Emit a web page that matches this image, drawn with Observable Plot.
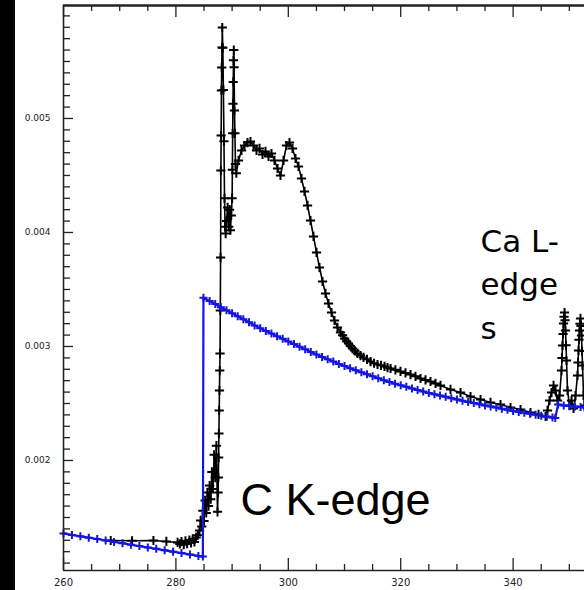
<!DOCTYPE html>
<html><head><meta charset="utf-8">
<script src="https://cdn.jsdelivr.net/npm/d3@7"></script>
<script src="https://cdn.jsdelivr.net/npm/@observablehq/plot@0.6"></script>
<style>
html,body{margin:0;padding:0;background:#fff;}
#wrap{position:relative;width:584px;height:590px;overflow:hidden;background:#fff;}
#strip{position:absolute;left:0;top:0;width:15px;height:590px;background:#000;z-index:2;}
#chart{position:absolute;left:0;top:0;}
</style></head>
<body><div id="wrap"><div id="strip"></div><div id="chart"></div></div>
<script>
// photon energy (eV) and absorption of the model (blue)
const blueE = [260,261.5,263,264.5,266,267.5,269,270.5,272,273.5,275,276.5,278,279.5,281,282.5,284,284.8,
  284.9,286,287,288,289,290,291,292,293,294,295,296,297,298,299,300,301,302,303,304,305,306,307,308,309,310,
  311,312,313,314,315,316,317,318,319,320,321,322,323,324,325,326,327,328,329,330,331,332,333,334,335,336,337,
  338,339,340,341,342,343,344,345,346,347,347.5,348,349,350,351,352,352.7];
const blueV = [0.001360,0.001347,0.001335,0.001323,0.001311,0.001298,0.001286,0.001274,0.001261,0.001249,0.001237,
  0.001225,0.001212,0.001200,0.001188,0.001175,0.001163,0.001157,
  0.003427,0.003399,0.003372,0.003345,0.003318,0.003291,0.003265,0.003239,0.003212,0.003185,0.003160,0.003136,
  0.003113,0.003090,0.003067,0.003044,0.003021,0.002998,0.002975,0.002952,0.002929,0.002907,0.002888,0.002868,
  0.002847,0.002828,0.002809,0.002791,0.002774,0.002756,0.002739,0.002722,0.002704,0.002688,0.002673,0.002660,
  0.002646,0.002632,0.002619,0.002605,0.002592,0.002580,0.002569,0.002558,0.002546,0.002536,0.002525,0.002513,
  0.002504,0.002493,0.002483,0.002474,0.002464,0.002454,0.002444,0.002435,0.002426,0.002418,0.002410,0.002401,
  0.002393,0.002384,0.002376,0.002372,0.002491,0.002482,0.002478,0.002474,0.002469,0.002465];

// measured spectrum (black)
const blackE = [268.4,272.2,276.0,278.3,280.3,280.7,281.0,281.4,281.7,282.0,282.4,282.7,283.0,283.3,283.6,283.9,
  284.2,284.4,284.6,284.8,285.0,285.2,285.4,285.6,285.8,286.0,286.2,286.4,286.6,286.8,287.0,287.2,287.4,
  287.50,287.55,287.60,287.65,287.70,287.75,287.80,287.85,287.90,287.95,288.00,288.05,288.10,288.15,288.20,288.25,
  288.35,288.45,288.55,288.65,288.75,288.85,289.00,289.20,289.40,289.55,289.70,289.85,290.00,
  290.05,290.10,290.15,290.20,290.25,290.30,290.35,290.42,290.50,290.60,290.75,
  291.14,291.67,292.21,292.74,293.27,293.81,294.34,294.88,295.41,295.94,296.48,297.01,297.54,298.08,298.61,
  299.15,299.68,300.21,300.75,301.28,301.81,302.35,302.88,303.42,303.95,304.48,305.02,305.55,306.09,306.62,
  307.15,307.69,308.22,308.75,309.29,309.65,310.00,310.35,310.71,311.05,311.42,311.85,312.31,312.85,313.38,
  314.00,314.63,315.25,315.87,316.50,317.12,317.65,318.19,319.05,319.96,320.85,321.74,322.63,323.52,324.41,
  325.30,326.19,327.08,328.86,330.64,332.42,334.20,335.98,337.76,339.54,341.32,343.10,344.52,345.77,
  346.12,346.48,346.83,347.19,347.54,347.90,348.26,348.61,348.70,348.79,348.88,348.97,349.06,349.15,349.24,
  349.32,349.41,349.50,349.68,350.04,350.39,350.75,351.10,351.46,351.55,351.64,351.72,351.81,351.90,351.99,
  352.08,352.17,352.26,352.35,352.53,352.70];
const blackV = [0.001298,0.001296,0.001298,0.001290,0.001281,0.001268,0.001288,0.001262,0.001295,0.001270,0.001302,
  0.001278,0.001312,0.001286,0.001325,0.001345,0.001386,0.001474,0.001420,0.001560,0.001470,0.001650,0.001540,
  0.001720,0.001600,0.001780,0.001660,0.001900,0.001750,0.002050,0.001850,0.002130,0.001550,
  0.001719,0.001851,0.002026,0.002237,0.002439,0.002614,0.002789,0.002939,0.003316,0.003781,0.004544,0.004851,
  0.005246,0.005447,0.005623,0.005798,
  0.005620,0.005250,0.004800,0.004300,0.004050,0.003990,0.004100,0.004220,0.004050,0.004200,0.004020,0.004150,0.004300,
  0.004550,0.004870,0.005130,0.005320,0.005510,0.005600,0.005450,0.005070,0.004870,0.004600,0.004520,
  0.004632,0.004719,0.004763,0.004789,0.004798,0.004763,0.004719,0.004737,0.004684,0.004711,0.004667,0.004693,
  0.004632,0.004561,0.004500,0.004632,0.004763,0.004789,0.004737,0.004649,0.004579,0.004474,0.004360,0.004237,
  0.004105,0.003965,0.003825,0.003693,0.003570,0.003465,0.003377,0.003298,0.003228,0.003167,0.003123,0.003098,
  0.003070,0.003046,0.003026,0.003005,0.002982,0.002962,0.002939,0.002920,0.002904,0.002887,0.002868,0.002853,
  0.002842,0.002835,0.002825,0.002815,0.002807,0.002795,0.002781,0.002768,0.002754,0.002738,0.002719,0.002707,
  0.002693,0.002676,0.002658,0.002623,0.002596,0.002561,0.002535,0.002509,0.002491,0.002465,0.002447,0.002421,
  0.002404,0.002386,
  0.002439,0.002526,0.002596,0.002658,0.002614,0.002526,0.002570,0.002789,0.002900,0.003009,0.003110,0.003202,
  0.003260,0.003298,0.003230,0.003140,0.003010,0.002877,0.002614,0.002482,0.002526,0.002456,0.002570,0.002746,
  0.002860,0.002965,0.003060,0.003140,0.003200,0.003246,0.003180,0.003096,0.002960,0.002833,0.002570,0.002482];

const xDomain = [260, 352.7];
const yDomain = [0.001035, 0.005991];
const xTicks = [260, 280, 300, 320, 340];
const xMinor = [265,270,275,285,290,295,305,310,315,325,330,335,345,350];
const yTicks = [0.002, 0.003, 0.004, 0.005];
const yMinor = [0.0011,0.0012,0.0013,0.0014,0.0015,0.0016,0.0017,0.0018,0.0019,
  0.0021,0.0022,0.0023,0.0024,0.0025,0.0026,0.0027,0.0028,0.0029,
  0.0031,0.0032,0.0033,0.0034,0.0035,0.0036,0.0037,0.0038,0.0039,
  0.0041,0.0042,0.0043,0.0044,0.0045,0.0046,0.0047,0.0048,0.0049,
  0.0051,0.0052,0.0053,0.0054,0.0055,0.0056,0.0057,0.0058,0.0059];

const blue = blueE.map((e, i) => ({e, v: blueV[i]}));
const black = blackE.map((e, i) => ({e, v: blackV[i]}));

const plus = {
  draw(ctx, size) {
    const r = Math.sqrt(size / Math.PI);
    ctx.moveTo(-r, 0); ctx.lineTo(r, 0);
    ctx.moveTo(0, -r); ctx.lineTo(0, r);
  }
};

const W = 584, H = 590, mL = 63, mT = 5, mB = 20, mR = 0;
const pw = W - mL - mR, ph = H - mT - mB;
const axisColor = "#222";

const chart = Plot.plot({
  width: W, height: H,
  marginLeft: mL, marginTop: mT, marginBottom: mB, marginRight: mR,
  style: {background: "transparent", overflow: "visible"},
  x: {domain: xDomain, label: null},
  y: {domain: yDomain, label: null},
  marks: [
    // measured spectrum
    Plot.line(black, {x: "e", y: "v", stroke: "#000", strokeWidth: 1.6}),
    Plot.dot(black, {x: "e", y: "v", symbol: plus, r: 4.6, stroke: "#000", strokeWidth: 2, fill: "none"}),
    // model
    Plot.line(blue, {x: "e", y: "v", stroke: "#1515e0", strokeWidth: 2.2}),
    Plot.dot(blue, {x: "e", y: "v", symbol: plus, r: 4, stroke: "#1515e0", strokeWidth: 2, fill: "none"}),
    // frame
    Plot.ruleY([yDomain[0]], {stroke: axisColor, strokeWidth: 1.6}),
    Plot.ruleY([yDomain[1]], {stroke: axisColor, strokeWidth: 2.6}),
    Plot.ruleX([xDomain[0]], {stroke: axisColor, strokeWidth: 1.6}),
    // inward ticks
    Plot.tickX(xTicks, {x: d => d, insetTop: ph - 12, stroke: axisColor, strokeWidth: 1.3}),
    Plot.tickX(xMinor, {x: d => d, insetTop: ph - 6, stroke: axisColor, strokeWidth: 1.3}),
    Plot.tickX(xTicks, {x: d => d, insetBottom: ph - 12, stroke: axisColor, strokeWidth: 1.3}),
    Plot.tickX(xMinor, {x: d => d, insetBottom: ph - 6, stroke: axisColor, strokeWidth: 1.3}),
    Plot.tickY(yTicks, {y: d => d, insetRight: pw - 10, stroke: axisColor, strokeWidth: 1.3}),
    Plot.tickY(yMinor, {y: d => d, insetRight: pw - 7, stroke: axisColor, strokeWidth: 1.3}),
    // tick labels
    Plot.axisX({ticks: xTicks, tickSize: 0, tickPadding: 8, fontSize: 10, fontFamily: "DejaVu Sans", fill: "#222", label: null}),
    Plot.axisY({ticks: yTicks, tickSize: 0, tickPadding: 13, fontSize: 9, fontFamily: "DejaVu Sans", fill: "#222", label: null, tickFormat: d => d.toFixed(3)}),
    // annotations
    Plot.text(["C K-edge"], {x: 291.5, y: 0.0015175, text: d => d, textAnchor: "start", lineAnchor: "bottom",
      fontSize: 45, fontFamily: "Liberation Sans, Arial, sans-serif", fill: "#000"}),
    Plot.text(["Ca L-\nedge\ns"], {x: 334.2, y: 0.003070, text: d => d, textAnchor: "start", lineAnchor: "bottom",
      lineHeight: 1.39, fontSize: 31, fontFamily: "DejaVu Sans, sans-serif", fill: "#000"})
  ]
});
document.getElementById("chart").appendChild(chart);
</script>
</body></html>
